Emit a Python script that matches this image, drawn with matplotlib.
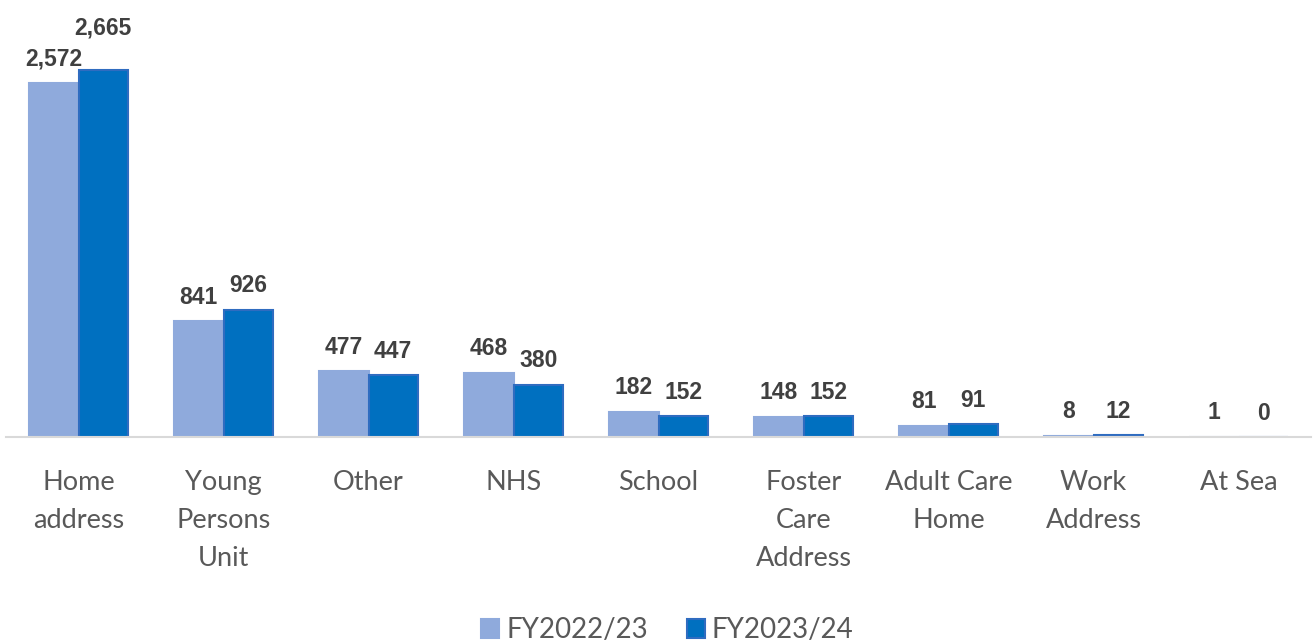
import numpy as np
import matplotlib.pyplot as plt

categories = ['Home\naddress', 'Young\nPersons\nUnit', 'Other', 'NHS', 'School',
              'Foster\nCare\nAddress', 'Adult Care\nHome', 'Work\nAddress', 'At Sea']
fy2223 = [2572, 841, 477, 468, 182, 148, 81, 8, 1]
fy2324 = [2665, 926, 447, 380, 152, 152, 91, 12, 0]
series_names = ['FY2022/23', 'FY2023/24']

light = '#8FAADC'
dark = '#0070C0'

fig = plt.figure(figsize=(13.14, 6.44), dpi=100)
ax = fig.add_axes([6/1314, 1 - 437/644, 1305/1314, 437/644])

x = np.arange(len(categories))
w = 0.34
b1 = ax.bar(x - w/2, fy2223, w, color=light, edgecolor='#8FAADC', linewidth=1.5, label=series_names[0])
b2 = ax.bar(x + w/2, fy2324, w, color=dark, edgecolor='#2F6CC0', linewidth=1.5, label=series_names[1])

for k, (bars, vals) in enumerate([(b1, fy2223), (b2, fy2324)]):
    for i, (rect, v) in enumerate(zip(bars, vals)):
        dy = 9
        # labels of the first group would collide, lift the second one like excel does
        if k == 1 and i == 0:
            dy = 22
        ax.annotate(f'{v:,}', (rect.get_x() + rect.get_width()/2, rect.get_height()),
                    xytext=(0, dy), textcoords='offset points', ha='center', va='bottom',
                    fontsize=16.5, fontweight='bold', color='#404040', family='Liberation Sans')

ax.set_xlim(-0.5, len(categories) - 0.5)
ax.set_ylim(0, 3175)
ax.set_yticks([])
ax.set_xticks(x)
ax.set_xticklabels(categories, fontsize=19.5, color='#595959', family='Lato', linespacing=1.64)
ax.tick_params(axis='x', length=0, pad=24)
for s in ['top', 'right', 'left']:
    ax.spines[s].set_visible(False)
ax.spines['bottom'].set_color('#D9D9D9')
ax.spines['bottom'].set_linewidth(1.5)

leg = fig.legend(loc='lower center', bbox_to_anchor=(0.508, -0.038), ncol=2, frameon=False,
                 prop={'family': 'Lato', 'size': 20}, handlelength=0.65, handleheight=0.65,
                 handletextpad=0.25, columnspacing=1.4)
for t in leg.get_texts():
    t.set_color('#595959')

fig.savefig('out.png', dpi=100)
